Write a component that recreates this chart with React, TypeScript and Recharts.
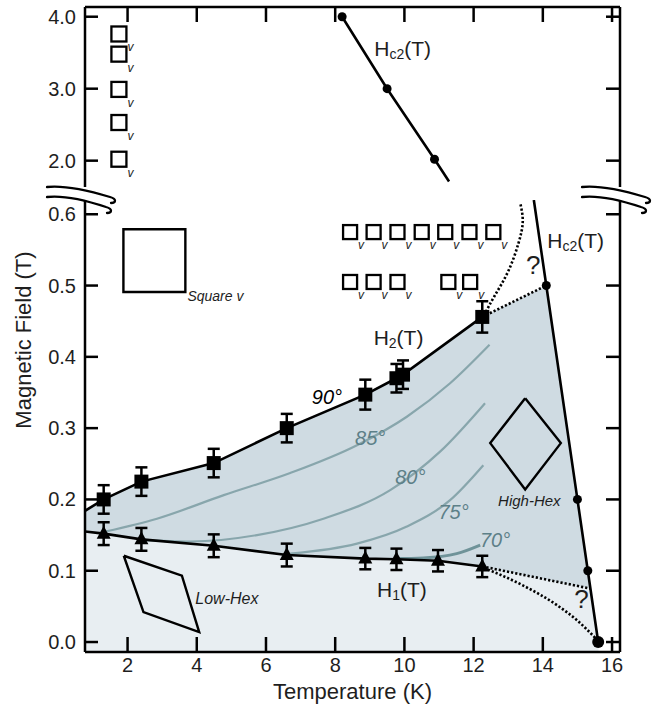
import React from 'react';
import {
  ComposedChart,
  XAxis,
  YAxis,
  Line,
  Area,
  Scatter,
  ErrorBar,
  ReferenceDot,
  ReferenceArea,
  Label,
} from 'recharts';

const FONT = '"Liberation Sans", Arial, Helvetica, sans-serif';
const INK = '#000';
const TEXT = '#1e1e1e';
const MID_FILL = '#cfdbe2';
const LIGHT_FILL = '#e8eef2';
const CONTOUR = '#88a6ac';
const CONTOUR_TEXT = '#5d8088';

// ---------- axes ----------
const T_DOMAIN: [number, number] = [0.77, 16.23];
const T_TICKS = [2, 4, 6, 8, 10, 12, 14, 16];
const LOW_H_DOMAIN: [number, number] = [-0.014, 0.62];
const LOW_H_TICKS = [0, 0.1, 0.2, 0.3, 0.4, 0.5, 0.6];
const HIGH_H_DOMAIN: [number, number] = [1.634, 4.135];
const HIGH_H_TICKS = [2, 3, 4];

// ---------- measured transitions ----------
const h2Points = [
  { T: 1.31, H: 0.2, e: 0.02 },
  { T: 2.4, H: 0.225, e: 0.02 },
  { T: 4.49, H: 0.251, e: 0.02 },
  { T: 6.6, H: 0.3, e: 0.02 },
  { T: 8.87, H: 0.347, e: 0.021 },
  { T: 9.77, H: 0.37, e: 0.02 },
  { T: 9.96, H: 0.375, e: 0.02 },
  { T: 12.25, H: 0.456, e: 0.022 },
];
const h1Points = [
  { T: 1.31, H: 0.152, e: 0.016 },
  { T: 2.4, H: 0.144, e: 0.016 },
  { T: 4.49, H: 0.135, e: 0.016 },
  { T: 6.6, H: 0.122, e: 0.016 },
  { T: 8.87, H: 0.117, e: 0.015 },
  { T: 9.77, H: 0.116, e: 0.015 },
  { T: 10.97, H: 0.114, e: 0.015 },
  { T: 12.25, H: 0.106, e: 0.015 },
];
const h2Start = { T: 0.77, H: 0.184 };
const h1Start = { T: 0.77, H: 0.155 };
const h2Line = [h2Start, ...h2Points];
const h1Line = [h1Start, ...h1Points];

const hc2LowLine = [
  { T: 13.74, H: 0.62 },
  { T: 14.1, H: 0.5 },
  { T: 15.0, H: 0.2 },
  { T: 15.3, H: 0.1 },
  { T: 15.6, H: 0.0 },
];
const hc2LowPoints = [
  { T: 14.1, H: 0.5 },
  { T: 15.0, H: 0.2 },
  { T: 15.3, H: 0.1 },
];
const hc2ZeroPoint = [{ T: 15.6, H: 0.0 }];
const hc2HighPoints = [
  { T: 8.2, H: 4.0 },
  { T: 9.5, H: 3.0 },
  { T: 10.87, H: 2.02 },
];
const hc2HighLine = [...hc2HighPoints, { T: 11.29, H: 1.71 }];

// dotted (uncertain) boundaries
const h2ToHc2 = [
  { T: 12.25, H: 0.456 },
  { T: 14.1, H: 0.5 },
];
const h2Upturn = [
  { T: 12.3, H: 0.458 },
  { T: 12.6, H: 0.485 },
  { T: 13.0, H: 0.52 },
  { T: 13.3, H: 0.56 },
  { T: 13.42, H: 0.59 },
  { T: 13.35, H: 0.615 },
];
const h1ToHc2 = [
  { T: 12.25, H: 0.106 },
  { T: 15.37, H: 0.075 },
];
const h1Downturn = [
  { T: 12.3, H: 0.104 },
  { T: 13.4, H: 0.08 },
  { T: 14.4, H: 0.052 },
  { T: 15.0, H: 0.03 },
  { T: 15.55, H: 0.004 },
];

// region envelopes (built from the boundaries above)
const upperEnvelope = [...h2Line, ...hc2LowLine.slice(1)];
const lowerEnvelope = [...h1Line, h1ToHc2[1], hc2ZeroPoint[0]];

// opening-angle contours
const contour85 = [
  { T: 1.36, H: 0.155 },
  { T: 2.85, H: 0.173 },
  { T: 4.78, H: 0.206 },
  { T: 6.7, H: 0.237 },
  { T: 8.63, H: 0.276 },
  { T: 10.07, H: 0.316 },
  { T: 11.32, H: 0.363 },
  { T: 12.46, H: 0.417 },
];
const contour80 = [
  { T: 2.37, H: 0.143 },
  { T: 3.81, H: 0.141 },
  { T: 5.74, H: 0.15 },
  { T: 7.66, H: 0.173 },
  { T: 9.59, H: 0.213 },
  { T: 11.03, H: 0.267 },
  { T: 12.33, H: 0.335 },
];
const contour75 = [
  { T: 6.7, H: 0.124 },
  { T: 8.63, H: 0.138 },
  { T: 10.07, H: 0.162 },
  { T: 11.32, H: 0.199 },
  { T: 12.28, H: 0.248 },
];
const contour70 = [
  { T: 9.7, H: 0.117 },
  { T: 10.55, H: 0.118 },
  { T: 11.51, H: 0.124 },
  { T: 12.19, H: 0.136 },
];

// lattice sketches
const squareLatticeBox = { T1: 1.88, T2: 3.67, H1: 0.491, H2: 0.579 };
const highHexOutline = [
  { T: 13.49, H: 0.342 },
  { T: 14.52, H: 0.279 },
  { T: 13.49, H: 0.214 },
  { T: 12.48, H: 0.279 },
  { T: 13.49, H: 0.342 },
];
const lowHexOutline = [
  { T: 1.89, H: 0.121 },
  { T: 3.57, H: 0.093 },
  { T: 4.07, H: 0.014 },
  { T: 2.46, H: 0.042 },
  { T: 1.89, H: 0.121 },
];
const vortexHigh = [
  { T: 1.75, H: 3.76 },
  { T: 1.75, H: 3.48 },
  { T: 1.75, H: 2.99 },
  { T: 1.75, H: 2.53 },
  { T: 1.75, H: 2.02 },
];
const vortexRow1 = [8.43, 9.11, 9.8, 10.5, 11.18, 11.88, 12.57].map((T) => ({ T, H: 0.575 }));
const vortexRow2 = [8.43, 9.11, 9.8, 11.27, 11.9].map((T) => ({ T, H: 0.505 }));

// ---------- ticks ----------
const LeftTick = (props: any) => {
  const { x, y, payload } = props;
  return (
    <g>
      <line x1={x + 9} y1={y} x2={x + 22} y2={y} stroke={INK} strokeWidth={2.5} />
      <text x={x} y={y} textAnchor="end" dominantBaseline="central" fontSize={20} fontFamily={FONT} fill={TEXT}>
        {Number(payload.value).toFixed(1)}
      </text>
    </g>
  );
};
const RightTick = (props: any) => {
  const { x, y } = props;
  return <line x1={x} y1={y} x2={x - 14} y2={y} stroke={INK} strokeWidth={2.5} />;
};
const TopTick = (props: any) => {
  const { x, y } = props;
  return <line x1={x} y1={y} x2={x} y2={y + 15} stroke={INK} strokeWidth={2.5} />;
};
const BottomTick = (props: any) => {
  const { x, y, payload } = props;
  return (
    <g>
      <line x1={x} y1={y - 6} x2={x} y2={y - 21} stroke={INK} strokeWidth={2.5} />
      <text x={x} y={y + 14} textAnchor="middle" fontSize={20} fontFamily={FONT} fill={TEXT}>
        {payload.value}
      </text>
    </g>
  );
};

// ---------- marker shapes ----------
const SquareMarker = (p: any) => <rect x={p.cx - 7} y={p.cy - 7} width={14} height={14} fill={INK} />;
const TriangleMarker = (p: any) => (
  <polygon points={`${p.cx},${p.cy - 8} ${p.cx + 7},${p.cy + 5} ${p.cx - 7},${p.cy + 5}`} fill={INK} />
);
const dotMarker = (r: number) => (p: any) => <circle cx={p.cx} cy={p.cy} r={r} fill={INK} />;
const vortexCell = (s: number) => (p: any) => (
  <g>
    <rect x={p.cx - s / 2} y={p.cy - s / 2} width={s} height={s} fill="none" stroke={INK} strokeWidth={2.3} />
    <text x={p.cx + s / 2 + 1} y={p.cy + s / 2 + 10} fontSize={12} fontStyle="italic" fontFamily={FONT} fill={TEXT}>
      v
    </text>
  </g>
);

const textShape =
  (content: React.ReactNode, size: number, opts: { italic?: boolean; color?: string; anchor?: string } = {}) =>
  (p: any) => (
    <text
      x={p.cx}
      y={p.cy}
      textAnchor={(opts.anchor as any) ?? 'middle'}
      dominantBaseline="central"
      fontSize={size}
      fontStyle={opts.italic ? 'italic' : 'normal'}
      fill={opts.color ?? TEXT}
      fontFamily={FONT}
    >
      {content}
    </text>
  );

const subLabel = (main: string, sub: string, tail: string) => (
  <>
    <tspan>{main}</tspan>
    <tspan fontSize={14} dy={6}>
      {sub}
    </tspan>
    <tspan dy={-6}>{tail}</tspan>
  </>
);

const BreakMarks = (p: any) => (
  <g fill="none" stroke={INK} strokeWidth={2.3} strokeLinecap="round">
    <path d={`M${p.cx - 38},${p.cy - 13} C${p.cx - 20},${p.cy - 15} ${p.cx + 5},${p.cy - 9} ${p.cx + 25},${p.cy - 3} C${p.cx + 32},${p.cy - 1} ${p.cx + 31},${p.cy + 3} ${p.cx + 26},${p.cy + 3}`} />
    <path d={`M${p.cx - 38},${p.cy - 3} C${p.cx - 20},${p.cy - 5} ${p.cx + 3},${p.cy + 1} ${p.cx + 21},${p.cy + 7} C${p.cx + 28},${p.cy + 9} ${p.cx + 27},${p.cy + 13} ${p.cx + 22},${p.cy + 13}`} />
  </g>
);

const axisLine = { stroke: INK, strokeWidth: 2.5 };
const dotted = { stroke: INK, strokeWidth: 2.6, strokeDasharray: '2.2 2' };

const lineCommon = {
  dot: false as const,
  activeDot: false as const,
  isAnimationActive: false,
  dataKey: 'H',
  type: 'linear' as const,
};

export default function App() {
  return (
    <div style={{ position: 'absolute', left: 0, top: 0, width: 660, height: 706, background: '#fff' }}>
      {/* upper (broken) part of the field axis */}
      <div style={{ position: 'absolute', left: 0, top: 0 }}>
        <ComposedChart width={660} height={200} margin={{ top: 6, right: 0, bottom: 13, left: 0 }}>
          <XAxis
            xAxisId="t"
            orientation="top"
            type="number"
            dataKey="T"
            domain={T_DOMAIN}
            ticks={T_TICKS}
            interval={0}
            allowDataOverflow
            height={1}
            tickSize={0}
            tickMargin={0}
            tickLine={false}
            axisLine={axisLine}
            tick={TopTick}
          />
          <YAxis
            yAxisId="l"
            type="number"
            dataKey="H"
            domain={HIGH_H_DOMAIN}
            ticks={HIGH_H_TICKS}
            interval={0}
            allowDataOverflow
            width={85}
            tickSize={0}
            tickMargin={9}
            tickLine={false}
            axisLine={axisLine}
            tick={LeftTick}
          />
          <YAxis
            yAxisId="r"
            orientation="right"
            type="number"
            domain={HIGH_H_DOMAIN}
            ticks={HIGH_H_TICKS}
            interval={0}
            allowDataOverflow
            width={40}
            tickSize={0}
            tickMargin={0}
            tickLine={false}
            axisLine={axisLine}
            tick={RightTick}
          />
          <Line {...lineCommon} xAxisId="t" yAxisId="l" data={hc2HighLine} stroke={INK} strokeWidth={2.6} />
          <Scatter xAxisId="t" yAxisId="l" data={hc2HighPoints} dataKey="H" shape={dotMarker(4.5)} isAnimationActive={false} />
          <Scatter xAxisId="t" yAxisId="l" data={vortexHigh} dataKey="H" shape={vortexCell(15)} isAnimationActive={false} />
          <ReferenceDot
            xAxisId="t"
            yAxisId="l"
            x={9.95}
            y={3.56}
            ifOverflow="visible"
            shape={textShape(subLabel('H', 'c2', '(T)'), 21)}
          />
        </ComposedChart>
      </div>

      {/* lower part */}
      <div style={{ position: 'absolute', left: 0, top: 0 }}>
        <ComposedChart width={660} height={706} margin={{ top: 200, right: 0, bottom: 0, left: 0 }}>
          <XAxis
            xAxisId="t"
            type="number"
            dataKey="T"
            domain={T_DOMAIN}
            ticks={T_TICKS}
            interval={0}
            allowDataOverflow
            height={54}
            tickSize={0}
            tickMargin={6}
            tickLine={false}
            axisLine={axisLine}
            tick={BottomTick}
          >
            <Label
              content={(p: any) => (
                <text
                  x={p.viewBox.x + p.viewBox.width / 2}
                  y={p.viewBox.y + 47}
                  textAnchor="middle"
                  fontSize={22}
                  fontFamily={FONT}
                  fill={TEXT}
                >
                  Temperature (K)
                </text>
              )}
            />
          </XAxis>
          <YAxis
            yAxisId="l"
            type="number"
            dataKey="H"
            domain={LOW_H_DOMAIN}
            ticks={LOW_H_TICKS}
            interval={0}
            allowDataOverflow
            width={85}
            tickSize={0}
            tickMargin={9}
            tickLine={false}
            axisLine={axisLine}
            tick={LeftTick}
          >
            <Label
              content={(p: any) => {
                const x = p.viewBox.x + 31;
                const y = p.viewBox.y + 140;
                return (
                  <text
                    x={x}
                    y={y}
                    transform={`rotate(-90 ${x} ${y})`}
                    textAnchor="middle"
                    fontSize={22}
                    fontFamily={FONT}
                    fill={TEXT}
                  >
                    Magnetic Field (T)
                  </text>
                );
              }}
            />
          </YAxis>
          <YAxis
            yAxisId="r"
            orientation="right"
            type="number"
            domain={LOW_H_DOMAIN}
            ticks={LOW_H_TICKS}
            interval={0}
            allowDataOverflow
            width={40}
            tickSize={0}
            tickMargin={0}
            tickLine={false}
            axisLine={axisLine}
            tick={RightTick}
          />

          {/* phase regions */}
          <Area
            {...lineCommon}
            xAxisId="t"
            yAxisId="l"
            data={upperEnvelope}
            baseValue={LOW_H_DOMAIN[0]}
            fill={MID_FILL}
            fillOpacity={1}
            stroke="none"
          />
          <Area
            {...lineCommon}
            xAxisId="t"
            yAxisId="l"
            data={lowerEnvelope}
            baseValue={LOW_H_DOMAIN[0]}
            fill={LIGHT_FILL}
            fillOpacity={1}
            stroke="none"
          />

          {/* contours */}
          <Line {...lineCommon} type="monotone" xAxisId="t" yAxisId="l" data={contour85} stroke={CONTOUR} strokeWidth={2.2} />
          <Line {...lineCommon} type="monotone" xAxisId="t" yAxisId="l" data={contour80} stroke={CONTOUR} strokeWidth={2.2} />
          <Line {...lineCommon} type="monotone" xAxisId="t" yAxisId="l" data={contour75} stroke={CONTOUR} strokeWidth={2.2} />
          <Line {...lineCommon} type="monotone" xAxisId="t" yAxisId="l" data={contour70} stroke="#6f9399" strokeWidth={3} />

          {/* boundaries */}
          <Line {...lineCommon} xAxisId="t" yAxisId="l" data={h2Line} stroke={INK} strokeWidth={2.6} />
          <Line {...lineCommon} xAxisId="t" yAxisId="l" data={h1Line} stroke={INK} strokeWidth={2.6} />
          <Line {...lineCommon} xAxisId="t" yAxisId="l" data={hc2LowLine} stroke={INK} strokeWidth={2.6} />
          <Line {...lineCommon} xAxisId="t" yAxisId="l" data={h2ToHc2} {...dotted} />
          <Line {...lineCommon} type="natural" xAxisId="t" yAxisId="l" data={h2Upturn} {...dotted} />
          <Line {...lineCommon} xAxisId="t" yAxisId="l" data={h1ToHc2} {...dotted} />
          <Line {...lineCommon} type="monotone" xAxisId="t" yAxisId="l" data={h1Downturn} {...dotted} />

          {/* lattice sketches */}
          <ReferenceArea
            xAxisId="t"
            yAxisId="l"
            x1={squareLatticeBox.T1}
            x2={squareLatticeBox.T2}
            y1={squareLatticeBox.H1}
            y2={squareLatticeBox.H2}
            fill="none"
            fillOpacity={0}
            stroke={INK}
            strokeWidth={2.4}
          />
          <Line {...lineCommon} xAxisId="t" yAxisId="l" data={highHexOutline} stroke={INK} strokeWidth={2.4} />
          <Line {...lineCommon} xAxisId="t" yAxisId="l" data={lowHexOutline} stroke={INK} strokeWidth={2.4} />
          <Scatter xAxisId="t" yAxisId="l" data={vortexRow1} dataKey="H" shape={vortexCell(14)} isAnimationActive={false} />
          <Scatter xAxisId="t" yAxisId="l" data={vortexRow2} dataKey="H" shape={vortexCell(14)} isAnimationActive={false} />

          {/* data points */}
          <Scatter xAxisId="t" yAxisId="l" data={h2Points} dataKey="H" shape={SquareMarker} isAnimationActive={false}>
            <ErrorBar dataKey="e" direction="y" width={6} stroke={INK} strokeWidth={2.5} isAnimationActive={false} />
          </Scatter>
          <Scatter xAxisId="t" yAxisId="l" data={h1Points} dataKey="H" shape={TriangleMarker} isAnimationActive={false}>
            <ErrorBar dataKey="e" direction="y" width={6} stroke={INK} strokeWidth={2.5} isAnimationActive={false} />
          </Scatter>
          <Scatter xAxisId="t" yAxisId="l" data={hc2LowPoints} dataKey="H" shape={dotMarker(4.5)} isAnimationActive={false} />
          <Scatter xAxisId="t" yAxisId="l" data={hc2ZeroPoint} dataKey="H" shape={dotMarker(6)} isAnimationActive={false} />

          {/* annotations */}
          <ReferenceDot xAxisId="t" yAxisId="l" x={7.76} y={0.344} ifOverflow="visible" shape={textShape('90°', 20, { italic: true, color: INK })} />
          <ReferenceDot xAxisId="t" yAxisId="l" x={9.01} y={0.286} ifOverflow="visible" shape={textShape('85°', 20, { italic: true, color: CONTOUR_TEXT })} />
          <ReferenceDot xAxisId="t" yAxisId="l" x={10.17} y={0.232} ifOverflow="visible" shape={textShape('80°', 20, { italic: true, color: CONTOUR_TEXT })} />
          <ReferenceDot xAxisId="t" yAxisId="l" x={11.42} y={0.183} ifOverflow="visible" shape={textShape('75°', 20, { italic: true, color: CONTOUR_TEXT })} />
          <ReferenceDot xAxisId="t" yAxisId="l" x={12.62} y={0.143} ifOverflow="visible" shape={textShape('70°', 20, { italic: true, color: CONTOUR_TEXT })} />
          <ReferenceDot xAxisId="t" yAxisId="l" x={9.83} y={0.428} ifOverflow="visible" shape={textShape(subLabel('H', '2', '(T)'), 21)} />
          <ReferenceDot xAxisId="t" yAxisId="l" x={9.93} y={0.075} ifOverflow="visible" shape={textShape(subLabel('H', '1', '(T)'), 21)} />
          <ReferenceDot xAxisId="t" yAxisId="l" x={14.95} y={0.564} ifOverflow="visible" shape={textShape(subLabel('H', 'c2', '(T)'), 21)} />
          <ReferenceDot xAxisId="t" yAxisId="l" x={13.72} y={0.529} ifOverflow="visible" shape={textShape('?', 26)} />
          <ReferenceDot xAxisId="t" yAxisId="l" x={15.12} y={0.061} ifOverflow="visible" shape={textShape('?', 26)} />
          <ReferenceDot xAxisId="t" yAxisId="l" x={13.61} y={0.199} ifOverflow="visible" shape={textShape('High-Hex', 15, { italic: true })} />
          <ReferenceDot xAxisId="t" yAxisId="l" x={4.87} y={0.061} ifOverflow="visible" shape={textShape('Low-Hex', 16, { italic: true })} />
          <ReferenceDot
            xAxisId="t"
            yAxisId="l"
            x={3.73}
            y={0.486}
            ifOverflow="visible"
            shape={textShape('Square v', 14, { italic: true, anchor: 'start' })}
          />

          {/* axis breaks */}
          <ReferenceDot xAxisId="t" yAxisId="l" x={T_DOMAIN[0]} y={LOW_H_DOMAIN[1]} ifOverflow="visible" shape={BreakMarks} />
          <ReferenceDot xAxisId="t" yAxisId="l" x={T_DOMAIN[1]} y={LOW_H_DOMAIN[1]} ifOverflow="visible" shape={BreakMarks} />
        </ComposedChart>
      </div>
    </div>
  );
}
